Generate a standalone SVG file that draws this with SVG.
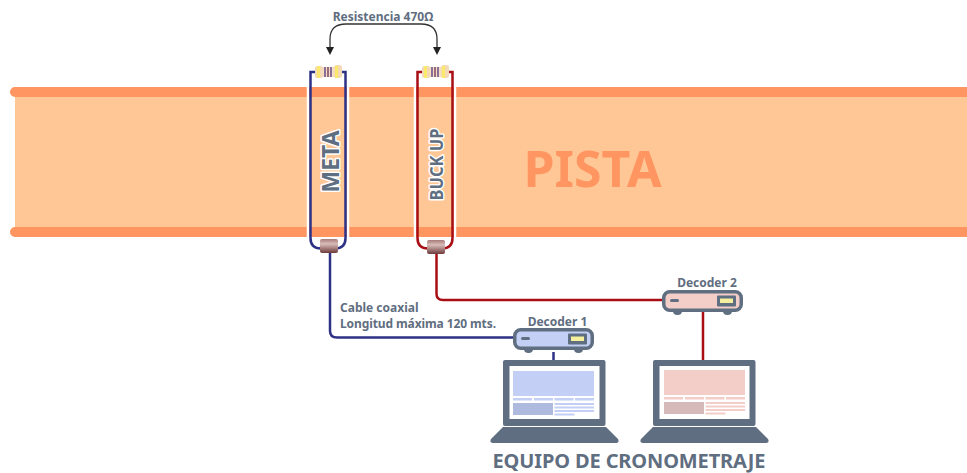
<svg xmlns="http://www.w3.org/2000/svg" width="967" height="473" viewBox="0 0 967 473">
<style>
text{font-family:"Noto Sans","Open Sans",sans-serif;font-weight:700;fill:#5f6e80}
.lbl{font-size:12px}
.wire{fill:none;stroke-width:2.500}
.blue{stroke:#2e3287}.red{stroke:#a80e14}
.halo{fill:none;stroke:#fff;stroke-width:2.500}
.dk{fill:#5f6e80}
.vert{paint-order:stroke;stroke:#fff;stroke-width:3px;stroke-linejoin:round}
</style>
<defs>
<linearGradient id="ferr" x1="0" y1="0" x2="0" y2="1"><stop offset="0" stop-color="#a77a78"/><stop offset=".35" stop-color="#d9bdb9"/><stop offset="1" stop-color="#6d3a3a"/></linearGradient>
<g id="res">
<rect x="5" y="2" width="17" height="10" fill="#f6dfc0"/>
<rect x="0" y="1" width="8" height="12" rx="2.500" fill="#f3d9b5"/>
<rect x="19" y="0" width="8" height="13" rx="2.500" fill="#f3d9b5"/>
<rect x="2" y="1" width="3" height="12" fill="#fbe96b"/>
<rect x="9" y="2" width="2" height="10" fill="#8a6f9c"/>
<rect x="12" y="2" width="2" height="10" fill="#9a6a80"/>
<rect x="15" y="2" width="2" height="10" fill="#8a6f9c"/>
<rect x="20" y="1" width="3" height="12" fill="#fbe96b"/>
</g>
<g id="laptop">
<rect x="12" y="0" width="102.500" height="66" rx="2" class="dk"/>
<rect x="18.500" y="6" width="90" height="53" fill="#fff"/>
<path d="M12 67H115L127 79Q129 83 124 83H3Q-2 83 0 79Z" class="dk"/>
</g>
<g id="decoder">
<rect x="1.750" y="1.750" width="77.500" height="18.500" rx="6" stroke="#5f6e80" stroke-width="3.500"/>
<rect x="8" y="9" width="9" height="3" rx="1.500" class="dk"/>
<rect x="55" y="5.500" width="19" height="11" rx="1" class="dk"/>
<rect x="58" y="8.500" width="13" height="4.500" fill="#f5ef9e"/>
<path d="M11 21h9q0 4-4.500 4t-4.500-4ZM61 21h9q0 4-4.500 4t-4.500-4Z" class="dk"/>
</g>
<g id="screen">
<rect x="0" y="0" width="81" height="25"/>
<rect x="0" y="27" width="19" height="2.500"/><rect x="21" y="27" width="19" height="2.500"/><rect x="41.500" y="27" width="19" height="2.500"/><rect x="62" y="27" width="19" height="2.500"/>
<rect x="0" y="32" width="40" height="12"/>
<rect x="0" y="32" width="40" height="12" fill="#5f6e80" opacity=".2"/>
<rect x="41.500" y="32" width="39.500" height="2"/><rect x="41.500" y="35.500" width="39.500" height="2"/><rect x="41.500" y="39" width="39.500" height="2"/><rect x="41.500" y="42.500" width="20" height="2"/>
</g>
</defs>

<g id="pista">
<rect x="15" y="92" width="952" height="140" fill="#ffc795"/>
<path d="M15 92H967M15 232H967" stroke="#ff9560" stroke-width="10" stroke-linecap="round" fill="none"/>
<text x="592.500" y="187" text-anchor="middle" font-size="50" style="fill:#ff9560">PISTA</text>
</g>

<g id="halos">
<path class="halo" d="M308 86V238Q308 251 321 251H335Q348 251 348 238V86"/>
<path class="halo" d="M415 86V238Q415 251 428 251H442Q455 251 455 238V86"/>
</g>

<g id="connectors">
<path class="wire blue" d="M315 72H310.500V238Q310.500 248.500 321 248.500H335Q345.500 248.500 345.500 238V72H341"/>
<path class="wire red" d="M422 72H417.500V238Q417.500 248.500 428 248.500H442Q452.500 248.500 452.500 238V72H448"/>
<path class="wire blue" d="M330 252V331Q330 337.500 337 337.500H515"/>
<path class="wire red" d="M436.500 252V294Q436.500 300 443 300H663"/>
<path class="wire blue" d="M553.500 352V361"/>
<path class="wire red" d="M703 312V361"/>
<path d="M330 48V39Q330 24 346 24H421Q437 24 437 39V48" fill="none" stroke="#333" stroke-width="1.300"/>
<path d="M326 47H334L330 55ZM433 47H441L437 55Z" fill="#222"/>
</g>

<g id="label-meta">
<text class="vert" transform="translate(338.500 192.500) rotate(-90)" font-size="23">META</text>
</g>
<g id="label-buckup">
<text class="vert" transform="translate(442.500 200.500) rotate(-90)" font-size="18" textLength="72" lengthAdjust="spacingAndGlyphs">BUCK UP</text>
</g>

<g id="resistor-1"><use href="#res" x="315" y="65"/></g>
<g id="resistor-2"><use href="#res" x="422" y="65"/></g>
<g id="ferrite-1"><rect x="320" y="239" width="18" height="14" rx="2" fill="url(#ferr)"/></g>
<g id="ferrite-2"><rect x="427" y="240" width="18" height="14" rx="2" fill="url(#ferr)"/></g>

<g id="resistencia"><text class="lbl" x="383" y="21" text-anchor="middle">Resistencia 470Ω</text></g>
<g id="cable"><text class="lbl" x="340" y="312">Cable coaxial</text><text class="lbl" x="340" y="328" textLength="156">Longitud máxima 120 mts.</text></g>

<g id="decoder-1"><use href="#decoder" x="513" y="328" fill="#c3cff5"/><text class="lbl" x="557.500" y="326" text-anchor="middle">Decoder 1</text></g>
<g id="decoder-2"><use href="#decoder" x="662" y="290" fill="#f3cdc7"/><text class="lbl" x="707" y="287" text-anchor="middle">Decoder 2</text></g>

<g id="laptop-1"><use href="#laptop" x="491" y="360"/><use href="#screen" x="513" y="371" fill="#c3cff5"/></g>
<g id="laptop-2"><use href="#laptop" x="641" y="360"/><use href="#screen" x="664" y="370" fill="#f3cdc7"/></g>
<g id="equipo"><text x="629" y="468" text-anchor="middle" font-size="20" textLength="273">EQUIPO DE CRONOMETRAJE</text></g>
</svg>
